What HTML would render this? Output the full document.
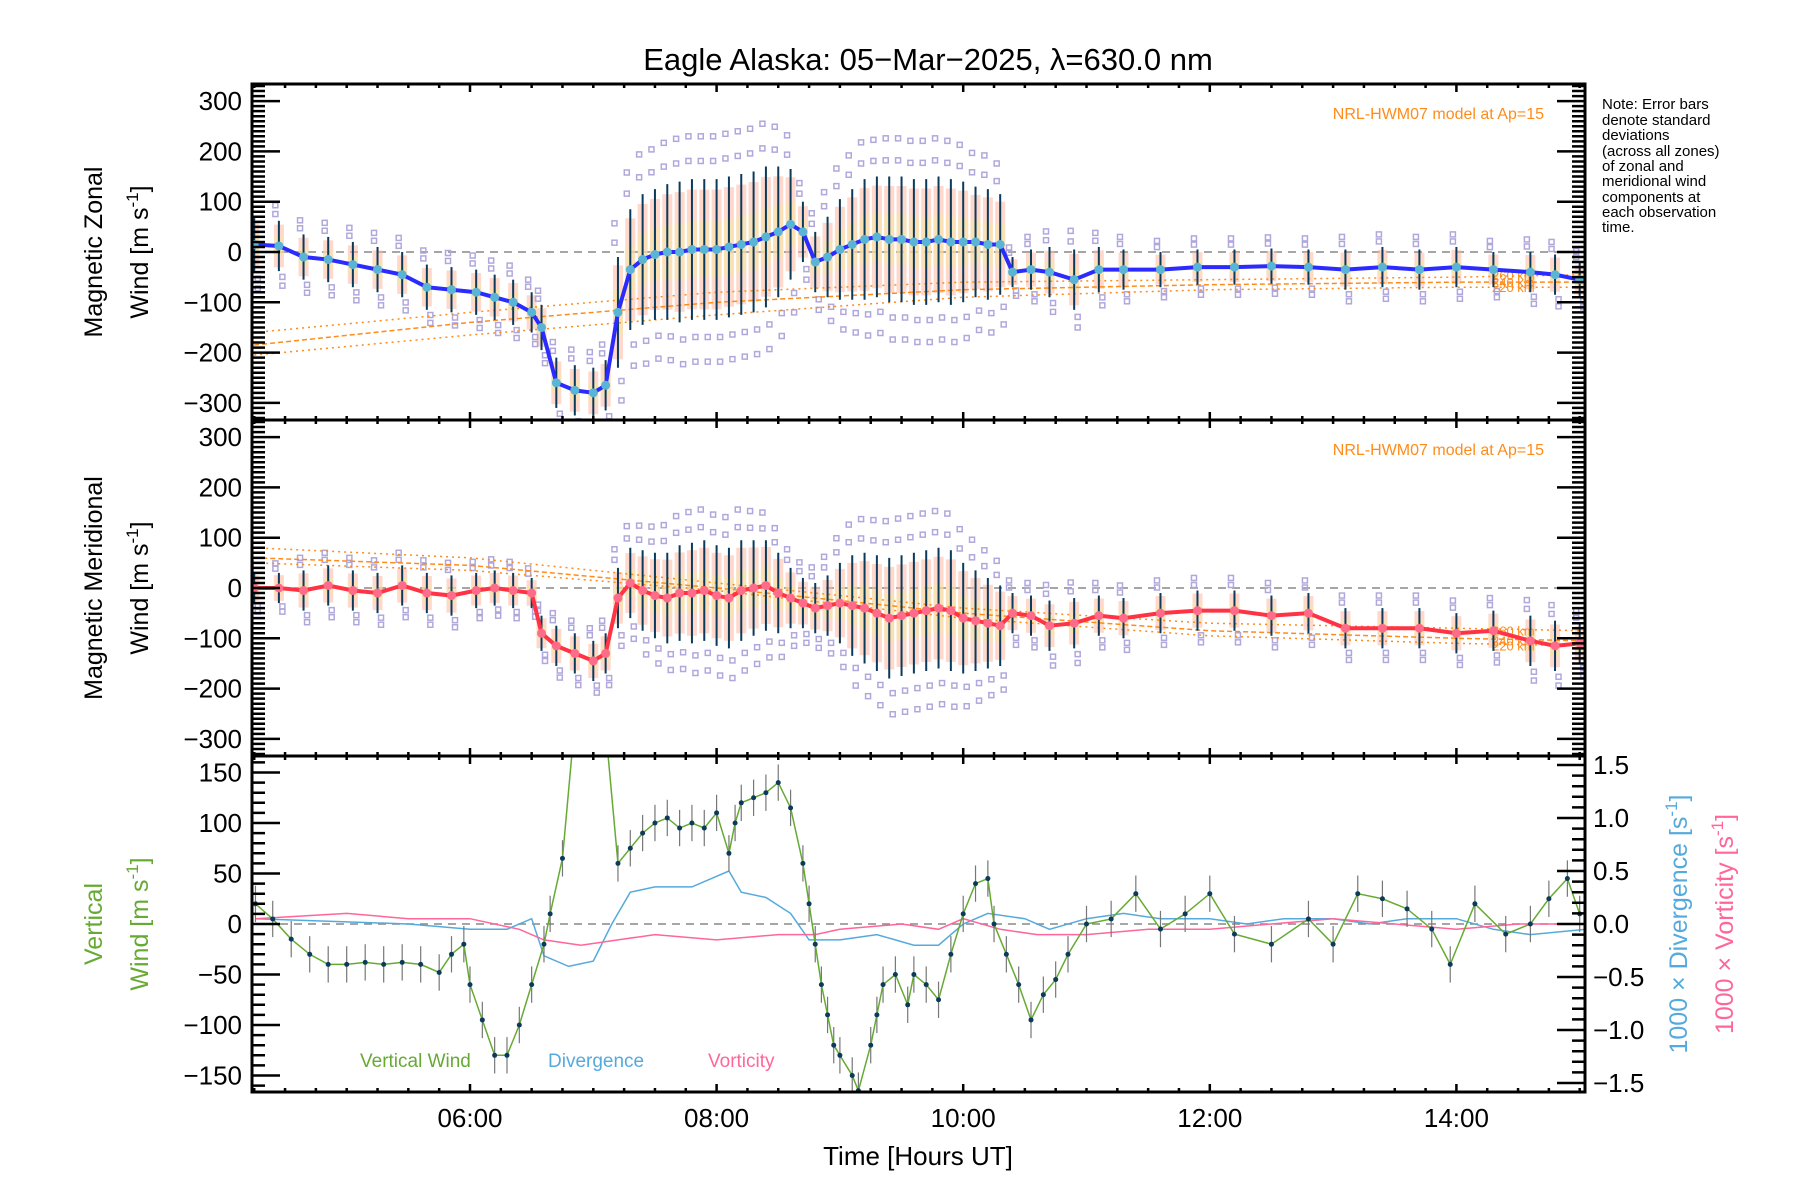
<!DOCTYPE html>
<html><head><meta charset="utf-8"><style>
html,body{margin:0;padding:0;background:#fff;}
svg{display:block;font-family:"Liberation Sans",sans-serif;}
</style></head><body>
<svg id="chart" width="1800" height="1200" viewBox="0 0 1800 1200" xmlns="http://www.w3.org/2000/svg">
<rect x="0" y="0" width="1800" height="1200" fill="#fff"/>
<text x="928" y="70" font-size="31" text-anchor="middle">Eagle Alaska: 05−Mar−2025, λ=630.0 nm</text>
<text font-size="15" fill="#000">
<tspan x="1602" y="109">Note: Error bars</tspan><tspan x="1602" y="125">denote standard</tspan><tspan x="1602" y="140">deviations</tspan><tspan x="1602" y="156">(across all zones)</tspan><tspan x="1602" y="171">of zonal and</tspan><tspan x="1602" y="186">meridional wind</tspan><tspan x="1602" y="202">components at</tspan><tspan x="1602" y="217">each observation</tspan><tspan x="1602" y="232">time.</tspan>
</text>
<text transform="translate(102,252) rotate(-90)" font-size="25" text-anchor="middle">Magnetic Zonal</text>
<text transform="translate(148,252) rotate(-90)" font-size="25" text-anchor="middle">Wind [m s<tspan dy="-10" font-size="17">-1</tspan><tspan dy="10">]</tspan></text>
<text transform="translate(102,588) rotate(-90)" font-size="25" text-anchor="middle">Magnetic Meridional</text>
<text transform="translate(148,588) rotate(-90)" font-size="25" text-anchor="middle">Wind [m s<tspan dy="-10" font-size="17">-1</tspan><tspan dy="10">]</tspan></text>
<text transform="translate(102,924) rotate(-90)" font-size="25" text-anchor="middle" fill="#66aa33">Vertical</text>
<text transform="translate(148,924) rotate(-90)" font-size="25" text-anchor="middle" fill="#66aa33">Wind [m s<tspan dy="-10" font-size="17">-1</tspan><tspan dy="10">]</tspan></text>
<text transform="translate(1687,924) rotate(-90)" font-size="25" text-anchor="middle" fill="#55aadd">1000 × Divergence [s<tspan dy="-10" font-size="17">-1</tspan><tspan dy="10">]</tspan></text>
<text transform="translate(1733,924) rotate(-90)" font-size="25" text-anchor="middle" fill="#ff6699">1000 × Vorticity [s<tspan dy="-10" font-size="17">-1</tspan><tspan dy="10">]</tspan></text>
<text x="918" y="1165" font-size="26" text-anchor="middle">Time [Hours UT]</text>
<text x="1544" y="119" font-size="16" text-anchor="end" fill="#ff8c1a">NRL-HWM07 model at Ap=15</text>
<text x="1544" y="455" font-size="16" text-anchor="end" fill="#ff8c1a">NRL-HWM07 model at Ap=15</text>
<text x="360" y="1067" font-size="19" fill="#66aa33">Vertical Wind</text>
<text x="548" y="1067" font-size="19" fill="#55aadd">Divergence</text>
<text x="708" y="1067" font-size="19" fill="#ff6699">Vorticity</text>
<defs>
<clipPath id="c1"><rect x="252" y="84" width="1333" height="336"/></clipPath>
<clipPath id="c2"><rect x="252" y="420" width="1333" height="336"/></clipPath>
<clipPath id="c3"><rect x="252" y="756" width="1333" height="336"/></clipPath>
</defs>
<g id="g1" clip-path="url(#c1)"></g>
<g id="g2" clip-path="url(#c2)"></g>
<g id="g3" clip-path="url(#c3)"></g>
<g id="axes"></g>
</svg>
<script>
// ---- data ----
const T = [4.25,4.45,4.65,4.85,5.05,5.25,5.45,5.65,5.85,6.05,
6.2,6.35,6.5,6.58,6.7,6.85,7.0,7.1,7.2,7.3,
7.4,7.5,7.6,7.7,7.8,7.9,8.0,8.1,8.2,8.3,
8.4,8.5,8.6,8.7,8.8,8.9,9.0,9.1,9.2,9.3,
9.4,9.5,9.6,9.7,9.8,9.9,10.0,10.1,10.2,10.3,
10.4,10.55,10.7,10.9,11.1,11.3,11.6,11.9,12.2,12.5,
12.8,13.1,13.4,13.7,14.0,14.3,14.6,14.8,15.0];
const zonal = [15,12,-10,-15,-25,-35,-45,-70,-75,-80,
-90,-100,-120,-150,-260,-275,-280,-265,-120,-35,
-15,-5,0,0,5,5,5,10,15,20,
30,40,55,40,-20,-10,5,15,25,30,
25,25,20,20,25,20,20,20,15,15,
-40,-35,-40,-55,-35,-35,-35,-30,-30,-28,
-30,-35,-30,-35,-30,-35,-40,-45,-55];
const zonalSd = [55,50,45,45,45,45,45,45,45,45,
45,45,40,45,50,50,50,50,110,120,
130,130,135,140,140,140,140,140,140,140,
140,130,110,60,60,80,100,110,120,120,
125,125,125,125,125,125,120,110,110,100,
30,40,50,60,45,40,35,35,35,35,
35,40,40,40,40,35,40,40,35];
const merid = [0,0,-5,5,-5,-10,5,-10,-15,-5,
0,-5,-10,-90,-115,-130,-145,-130,-20,10,
-5,-15,-20,-10,-10,-5,-15,-20,-5,0,
5,-10,-20,-30,-40,-35,-30,-35,-40,-50,
-60,-55,-50,-45,-40,-45,-60,-65,-70,-75,
-50,-55,-75,-70,-55,-60,-50,-45,-45,-55,
-50,-80,-80,-80,-90,-85,-105,-115,-110];
const meridSd = [30,30,40,40,40,40,40,40,40,35,
35,35,30,35,40,40,40,40,60,70,
80,85,90,95,100,100,100,100,100,95,
90,80,60,50,50,60,80,100,110,115,
120,120,120,120,120,120,110,100,90,80,
40,40,50,50,40,40,40,40,40,40,
40,40,40,40,40,40,50,50,40];
const MT = [4.25,6,8,10,12,14,15.05];
const zModel260 = [-160,-120,-80,-60,-55,-50,-45];
const zModel240 = [-185,-140,-100,-75,-65,-60,-60];
const zModel220 = [-205,-165,-125,-90,-75,-70,-70];
const mModel260 = [80,60,10,-40,-70,-80,-85];
const mModel240 = [60,45,0,-50,-85,-100,-105];
const mModel220 = [50,35,-5,-60,-95,-110,-115];
const VT = [4.26,4.4,4.55,4.7,4.85,5.0,5.15,5.3,5.45,5.6,5.75,5.85,5.95,6.0,6.1,6.2,6.3,6.4,6.5,6.6,6.65,6.75,6.85,7.05,7.2,7.3,7.4,7.5,7.6,7.7,7.8,7.9,8.0,8.1,8.15,8.2,8.3,8.4,8.5,8.6,8.7,8.75,8.8,8.85,8.9,8.95,9.0,9.1,9.15,9.25,9.3,9.35,9.45,9.55,9.6,9.7,9.8,9.9,10.0,10.1,10.2,10.25,10.35,10.45,10.55,10.65,10.75,10.85,11.0,11.2,11.4,11.6,11.8,12.0,12.2,12.5,12.8,13.0,13.2,13.4,13.6,13.8,13.95,14.15,14.4,14.6,14.75,14.9,15.0];
const VW = [20,5,-15,-30,-40,-40,-38,-40,-38,-40,-48,-30,-20,-60,-95,-130,-130,-100,-60,-20,10,65,200,260,60,75,90,100,105,95,100,95,110,70,100,120,125,130,140,115,60,20,-20,-60,-90,-120,-130,-150,-165,-120,-90,-60,-50,-80,-50,-60,-75,-30,10,40,45,0,-30,-60,-95,-70,-55,-30,0,5,30,-5,10,30,-10,-20,5,-20,30,25,15,-5,-40,20,-10,0,25,45,10];
const DT = [4.26,5.0,5.5,6.0,6.3,6.5,6.6,6.8,7.0,7.15,7.3,7.5,7.8,8.0,8.1,8.2,8.4,8.6,8.75,9.0,9.3,9.6,9.8,10.0,10.2,10.5,10.7,11.0,11.3,11.6,12.0,12.3,12.6,13.0,13.3,13.6,14.0,14.3,14.6,15.05];
const DV = [0.05,0.02,0.0,-0.05,-0.05,0.05,-0.3,-0.4,-0.35,0.0,0.3,0.35,0.35,0.45,0.5,0.3,0.25,0.1,-0.15,-0.15,-0.1,-0.2,-0.2,0.0,0.1,0.05,-0.05,0.05,0.1,0.05,0.05,0.0,0.05,0.05,0.0,0.05,0.05,-0.05,-0.1,-0.05];
const QT = [4.26,5.0,5.5,6.0,6.4,6.6,6.9,7.2,7.5,8.0,8.5,8.8,9.0,9.5,9.8,10.0,10.3,10.6,11.0,11.5,12.0,12.5,13.0,13.5,14.0,14.5,15.05];
const QV = [0.05,0.1,0.05,0.05,-0.05,-0.15,-0.2,-0.15,-0.1,-0.15,-0.1,-0.1,-0.05,0.0,-0.05,0.05,-0.05,-0.1,-0.1,-0.05,-0.05,0.0,0.05,0.0,-0.05,0.0,0.0];
const xTicks = [6,8,10,12,14];
const xTickLabels = ["06:00","08:00","10:00","12:00","14:00"];
const windTicks = [-300,-200,-100,0,100,200,300];
const vertTicks = [-150,-100,-50,0,50,100,150];
const rightTicks = [-1.5,-1.0,-0.5,0.0,0.5,1.0,1.5];

// ---- axes ----
const L=252,R=1585;
const X = h => 470 + (h-6)*123.3;
const Yz = v => 252 - v*0.503;
const Ym = v => 588 - v*0.503;
const Yv = v => 924 - v*1.01;
const Yr = v => 924 - v*106;
const NS='http://www.w3.org/2000/svg';
function mk(tag,attrs,parent){const e=document.createElementNS(NS,tag);for(const k in attrs)e.setAttribute(k,attrs[k]);parent.appendChild(e);return e;}
const axes=document.getElementById('axes');

function windPanel(g,Y,vals,sds,lineCol,dotCol,mods,prefix){
  const z=mk('line',{x1:L,x2:R,y1:Y(0),y2:Y(0),stroke:'#888','stroke-width':1.5,'stroke-dasharray':'8,6'},g);
  
  
  for(let i=0;i<T.length;i++){
    const x=X(T[i]);
    const b=mk('rect',{x:x-5,y:Y(vals[i]+sds[i]*0.85),width:10,height:Y(vals[i]-sds[i]*0.85)-Y(vals[i]+sds[i]*0.85),fill:'#ffb8a0',opacity:0.55},g);
    
    
    const b2=mk('rect',{x:x-5,y:Y(vals[i]+sds[i]*0.4),width:10,height:Y(vals[i]-sds[i]*0.4)-Y(vals[i]+sds[i]*0.4),fill:'#f3e8a0',opacity:0.5},g);
    
    
  }
  const offs=[1.25,-1.25,1.6,-1.6];
  for(let i=0;i<T.length;i++){
    for(let k=0;k<offs.length;k++){
      const s=mk('rect',{x:X(T[i])-3+(k%2?4:-3),y:Y(vals[i]+sds[i]*offs[k])-3,width:5,height:5,fill:'none',stroke:'#b0a8dd','stroke-width':1.5},g);
      
      
    }
  }
  const styles=['2,4','5,3','2,4'];
  mods.forEach((m,j)=>{
    const p=mk('polyline',{points:MT.map((t,i)=>X(t)+','+Y(m[i])).join(' '),fill:'none',stroke:'#ff8c1a','stroke-width':1.5,'stroke-dasharray':styles[j]},g);
    
    
  });
  const labs=['260 km','240 km','220 km'];
  mods.forEach((m,j)=>{
    const t=mk('text',{x:1492,y:Y(m[m.length-2]+(m[m.length-1]-m[m.length-2])*0.8)+5,'font-size':13,fill:'#ff8c1a'},g);
    t.textContent=labs[j];
    
    
  });
  for(let i=0;i<T.length;i++){
    const e=mk('line',{x1:X(T[i]),x2:X(T[i]),y1:Y(vals[i]+sds[i]),y2:Y(vals[i]-sds[i]),stroke:'#0b3a5a','stroke-width':2},g);
    
    
  }
  const ln=mk('polyline',{points:T.map((t,i)=>X(t)+','+Y(vals[i])).join(' '),fill:'none',stroke:lineCol,'stroke-width':4},g);
  
  
  for(let i=0;i<T.length;i++){
    const d=mk('circle',{cx:X(T[i]),cy:Y(vals[i]),r:4.5,fill:dotCol},g);
    
    
  }
}
windPanel(document.getElementById('g1'),Yz,zonal,zonalSd,'#2b2bff','#5ab4d6',[zModel260,zModel240,zModel220],'zonal');
windPanel(document.getElementById('g2'),Ym,merid,meridSd,'#ff3344','#ff6b8a',[mModel260,mModel240,mModel220],'merid');

const g3=document.getElementById('g3');
const z3=mk('line',{x1:L,x2:R,y1:Yv(0),y2:Yv(0),stroke:'#888','stroke-width':1.5,'stroke-dasharray':'8,6'},g3);


const dv=mk('polyline',{points:DT.map((t,i)=>X(t)+','+Yr(DV[i])).join(' '),fill:'none',stroke:'#55aadd','stroke-width':1.5},g3);


const qv=mk('polyline',{points:QT.map((t,i)=>X(t)+','+Yr(QV[i])).join(' '),fill:'none',stroke:'#ff6699','stroke-width':1.5},g3);


for(let i=0;i<VT.length;i++){
  const e=mk('line',{x1:X(VT[i]),x2:X(VT[i]),y1:Yv(VW[i]+18),y2:Yv(VW[i]-18),stroke:'#777','stroke-width':1.2},g3);
  
  
}
const vw=mk('polyline',{points:VT.map((t,i)=>X(t)+','+Yv(VW[i])).join(' '),fill:'none',stroke:'#66aa33','stroke-width':1.5},g3);


for(let i=0;i<VT.length;i++){
  const d=mk('circle',{cx:X(VT[i]),cy:Yv(VW[i]),r:2.5,fill:'#0b3a5a'},g3);
  
  
}

function frame(top,bot,Y,ticks,minStep,lo,hi,fmt,name,rY,rTicks,rMin,rLo,rHi){
  const f=mk('rect',{x:L,y:top,width:R-L,height:bot-top,fill:'none',stroke:'#000','stroke-width':3},axes);
  
  
  let d='';
  for(let v=lo;v<=hi+1e-9;v+=minStep){const y=Y(v);if(y<top||y>bot)continue;d+=`M${L},${y}h13`;if(!rY)d+=`M${R},${y}h-13`;}
  ticks.forEach(v=>{const y=Y(v);d+=`M${L},${y}h28`;if(!rY)d+=`M${R},${y}h-28`;});
  if(rY){for(let v=rLo;v<=rHi+1e-9;v+=rMin){const y=rY(v);if(y<top||y>bot)continue;d+=`M${R},${y}h-13`;} rTicks.forEach(v=>{d+=`M${R},${rY(v)}h-28`;});}
  for(let h=4.25;h<=15.05;h+=0.25){const x=X(h);if(x<L||x>R)continue;const big=Math.abs(h/2-Math.round(h/2))<1e-6;const len=big?8:4;d+=`M${x},${top}v${len}M${x},${bot}v${-len}`;}
  const p=mk('path',{d:d,stroke:'#000','stroke-width':2.5,fill:'none'},axes);
  
  
  ticks.forEach(v=>{const t=mk('text',{x:L-10,y:Y(v)+9,'font-size':26,'text-anchor':'end'},axes);t.textContent=fmt(v);
    
    });
  if(rY){rTicks.forEach(v=>{const t=mk('text',{x:R+8,y:rY(v)+9,'font-size':26},axes);t.textContent=(v<0?'−':'')+Math.abs(v).toFixed(1);
    
    });}
}
const f0=v=>(v<0?'−':'')+Math.abs(v);
frame(84,420,Yz,windTicks,10,-330,330,f0,'zonal');
frame(420,756,Ym,windTicks,10,-330,330,f0,'merid');
frame(756,1092,Yv,vertTicks,10,-160,160,f0,'vertical',Yr,rightTicks,0.1,-1.5,1.5);
xTicks.forEach((h,i)=>{
  const t=mk('text',{x:X(h),y:1127,'font-size':26,'text-anchor':'middle'},axes);
  t.textContent=xTickLabels[i];
  
  
});
</script>
</body></html>
